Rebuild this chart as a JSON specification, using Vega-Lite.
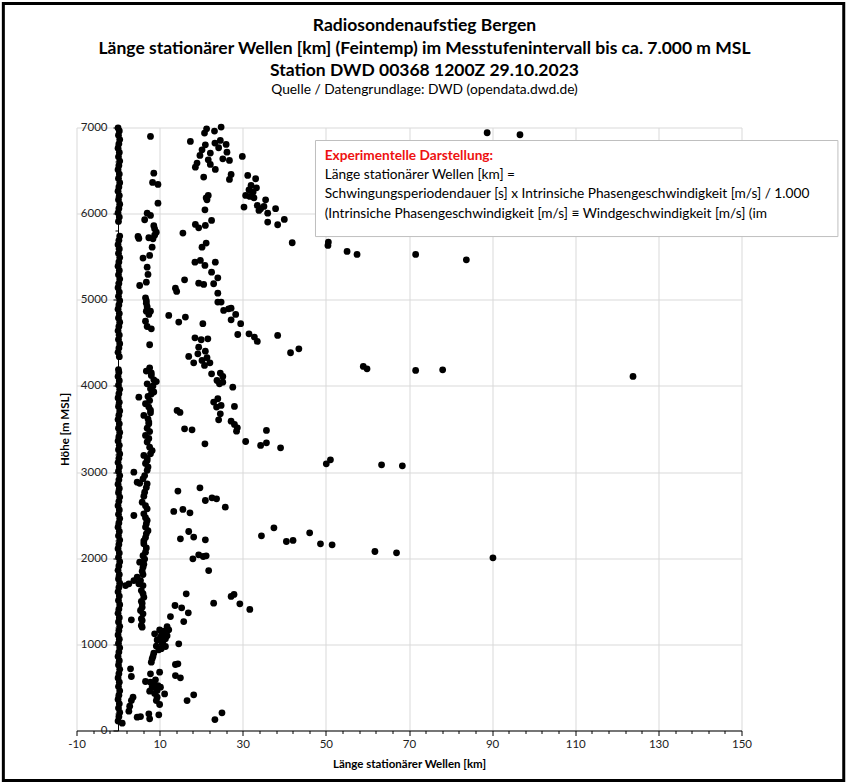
{
  "$schema": "https://vega.github.io/schema/vega-lite/v6.json",
  "width": 665,
  "height": 603,
  "padding": {"left": 1.5, "top": 1.5, "right": 2, "bottom": 2},
  "background": "white",
  "config": {"font": "Lato", "view": {"stroke": null}},
  "title": {
    "text": ["Radiosondenaufstieg Bergen", "Länge stationärer Wellen [km] (Feintemp) im Messtufenintervall bis ca. 7.000 m MSL", "Station DWD 00368 1200Z 29.10.2023"],
    "subtitle": "Quelle / Datengrundlage: DWD (opendata.dwd.de)",
    "anchor": "middle",
    "frame": "group",
    "dx": 15.5,
    "fontSize": 17.5,
    "fontWeight": "bold",
    "lineHeight": 22.5,
    "color": "black",
    "subtitleFontSize": 13.8,
    "subtitleColor": "black",
    "subtitlePadding": 3,
    "offset": -94.5
  },
  "layer": [
    {
      "data": {"values": [{}]},
      "mark": {"type": "rect", "filled": false, "stroke": "black", "strokeWidth": 3},
      "encoding": {
        "x": {"datum": -27.6, "type": "quantitative", "scale": {"domain": [-10, 150], "nice": false}},
        "x2": {"datum": 174.6},
        "y": {"datum": 8440, "type": "quantitative", "scale": {"domain": [0, 7000], "nice": false}},
        "y2": {"datum": -580}
      }
    },
    {
      "data": {"values": [
        {"laenge":0,"hoehe":110},{"laenge":0.2,"hoehe":160},{"laenge":0.4,"hoehe":210},{"laenge":0.1,"hoehe":260},{"laenge":0.3,"hoehe":310},
        {"laenge":0,"hoehe":360},{"laenge":0.2,"hoehe":410},{"laenge":0.4,"hoehe":460},{"laenge":0.1,"hoehe":510},{"laenge":0.3,"hoehe":560},
        {"laenge":0,"hoehe":610},{"laenge":0.2,"hoehe":660},{"laenge":0.4,"hoehe":710},{"laenge":0.1,"hoehe":760},{"laenge":0.3,"hoehe":810},
        {"laenge":0,"hoehe":860},{"laenge":0.2,"hoehe":910},{"laenge":0.4,"hoehe":960},{"laenge":0.1,"hoehe":1010},{"laenge":0.3,"hoehe":1060},
        {"laenge":0,"hoehe":1110},{"laenge":0.2,"hoehe":1160},{"laenge":0.4,"hoehe":1210},{"laenge":0.1,"hoehe":1260},{"laenge":0.3,"hoehe":1310},
        {"laenge":0,"hoehe":1360},{"laenge":0.2,"hoehe":1410},{"laenge":0.4,"hoehe":1460},{"laenge":0.1,"hoehe":1510},{"laenge":0.3,"hoehe":1560},
        {"laenge":0,"hoehe":1610},{"laenge":0.2,"hoehe":1660},{"laenge":0.4,"hoehe":1710},{"laenge":0.1,"hoehe":1760},{"laenge":0.3,"hoehe":1810},
        {"laenge":0,"hoehe":1860},{"laenge":0.2,"hoehe":1910},{"laenge":0.4,"hoehe":1960},{"laenge":0.1,"hoehe":2010},{"laenge":0.3,"hoehe":2060},
        {"laenge":0,"hoehe":2110},{"laenge":0.2,"hoehe":2160},{"laenge":0.4,"hoehe":2210},{"laenge":0.1,"hoehe":2260},{"laenge":0.3,"hoehe":2310},
        {"laenge":0,"hoehe":2360},{"laenge":0.2,"hoehe":2410},{"laenge":0.4,"hoehe":2460},{"laenge":0.1,"hoehe":2510},{"laenge":0.3,"hoehe":2560},
        {"laenge":0,"hoehe":2610},{"laenge":0.2,"hoehe":2660},{"laenge":0.4,"hoehe":2710},{"laenge":0.1,"hoehe":2760},{"laenge":0.3,"hoehe":2810},
        {"laenge":0,"hoehe":2860},{"laenge":0.2,"hoehe":2910},{"laenge":0.4,"hoehe":2960},{"laenge":0.1,"hoehe":3010},{"laenge":0.3,"hoehe":3060},
        {"laenge":0,"hoehe":3110},{"laenge":0.2,"hoehe":3160},{"laenge":0.4,"hoehe":3210},{"laenge":0.1,"hoehe":3260},{"laenge":0.3,"hoehe":3310},
        {"laenge":0,"hoehe":3360},{"laenge":0.2,"hoehe":3410},{"laenge":0.4,"hoehe":3460},{"laenge":0.1,"hoehe":3510},{"laenge":0.3,"hoehe":3560},
        {"laenge":0,"hoehe":3610},{"laenge":0.2,"hoehe":3660},{"laenge":0.4,"hoehe":3710},{"laenge":0.1,"hoehe":3760},{"laenge":0.3,"hoehe":3810},
        {"laenge":0,"hoehe":3860},{"laenge":0.2,"hoehe":3910},{"laenge":0.4,"hoehe":3960},{"laenge":0.1,"hoehe":4010},{"laenge":0.3,"hoehe":4060},
        {"laenge":0,"hoehe":4110},{"laenge":0.2,"hoehe":4160},{"laenge":0.1,"hoehe":4190},
        {"laenge":0.3,"hoehe":4340},{"laenge":0,"hoehe":4390},{"laenge":0.2,"hoehe":4440},{"laenge":0.4,"hoehe":4490},{"laenge":0.1,"hoehe":4540},
        {"laenge":0.3,"hoehe":4590},{"laenge":0,"hoehe":4640},{"laenge":0.2,"hoehe":4690},{"laenge":0.4,"hoehe":4740},{"laenge":0.1,"hoehe":4790},
        {"laenge":0.3,"hoehe":4840},{"laenge":0,"hoehe":4890},{"laenge":0.2,"hoehe":4940},{"laenge":0.4,"hoehe":4990},{"laenge":0.1,"hoehe":5040},
        {"laenge":0.3,"hoehe":5090},{"laenge":0,"hoehe":5140},{"laenge":0.2,"hoehe":5190},{"laenge":0.4,"hoehe":5240},{"laenge":0.1,"hoehe":5290},
        {"laenge":0.3,"hoehe":5340},{"laenge":0,"hoehe":5390},{"laenge":0.2,"hoehe":5440},{"laenge":0.4,"hoehe":5490},{"laenge":0.1,"hoehe":5540},
        {"laenge":0.3,"hoehe":5590},{"laenge":0,"hoehe":5640},{"laenge":0.2,"hoehe":5690},{"laenge":0.4,"hoehe":5740},
        {"laenge":0.1,"hoehe":5910},{"laenge":0.3,"hoehe":5960},{"laenge":0,"hoehe":6010},{"laenge":0.2,"hoehe":6060},{"laenge":0.4,"hoehe":6110},
        {"laenge":0.1,"hoehe":6160},{"laenge":0.3,"hoehe":6210},{"laenge":0,"hoehe":6260},{"laenge":0.2,"hoehe":6310},{"laenge":0.4,"hoehe":6360},
        {"laenge":0.1,"hoehe":6410},{"laenge":0.3,"hoehe":6460},{"laenge":0,"hoehe":6510},{"laenge":0.2,"hoehe":6560},{"laenge":0.4,"hoehe":6610},
        {"laenge":0.1,"hoehe":6660},{"laenge":0.3,"hoehe":6710},{"laenge":0,"hoehe":6760},{"laenge":0.2,"hoehe":6810},{"laenge":0.4,"hoehe":6860},
        {"laenge":0.1,"hoehe":6910},{"laenge":0.3,"hoehe":6960},{"laenge":0,"hoehe":6995},{"laenge":1.0,"hoehe":85},

        {"laenge":7.8,"hoehe":6896},{"laenge":8.6,"hoehe":6470},{"laenge":8.3,"hoehe":6362},{"laenge":9.6,"hoehe":6339},{"laenge":9.6,"hoehe":6122},
        {"laenge":7.0,"hoehe":6006},{"laenge":7.8,"hoehe":5979},{"laenge":6.4,"hoehe":5929},{"laenge":8.8,"hoehe":5824},{"laenge":9.2,"hoehe":5785},
        {"laenge":8.6,"hoehe":5860},{"laenge":4.8,"hoehe":5735},{"laenge":5.0,"hoehe":5712},{"laenge":7.4,"hoehe":5720},{"laenge":8.4,"hoehe":5708},
        {"laenge":8.8,"hoehe":5750},{"laenge":8.2,"hoehe":5611},{"laenge":7.6,"hoehe":5515},{"laenge":6.0,"hoehe":5484},{"laenge":7.0,"hoehe":5379},
        {"laenge":7.2,"hoehe":5294},{"laenge":6.8,"hoehe":5205},{"laenge":5.2,"hoehe":5166},{"laenge":6.6,"hoehe":5023},{"laenge":6.8,"hoehe":4990},
        {"laenge":6.8,"hoehe":4961},{"laenge":7.0,"hoehe":4920},{"laenge":6.8,"hoehe":4868},{"laenge":7.8,"hoehe":4868},{"laenge":7.4,"hoehe":4830},
        {"laenge":6.6,"hoehe":4752},{"laenge":7.0,"hoehe":4690},{"laenge":8.0,"hoehe":4663},{"laenge":7.6,"hoehe":4478},
        {"laenge":7.6,"hoehe":4210},{"laenge":6.8,"hoehe":4172},{"laenge":8.0,"hoehe":4150},{"laenge":8.0,"hoehe":4121},{"laenge":8.6,"hoehe":4071},
        {"laenge":9.2,"hoehe":4050},{"laenge":7.0,"hoehe":4025},{"laenge":8.4,"hoehe":4000},{"laenge":7.8,"hoehe":3967},{"laenge":8.6,"hoehe":3930},
        {"laenge":5.0,"hoehe":3870},{"laenge":7.2,"hoehe":3878},{"laenge":8.0,"hoehe":3905},{"laenge":6.6,"hoehe":3793},{"laenge":7.6,"hoehe":3830},
        {"laenge":7.4,"hoehe":3754},{"laenge":7.8,"hoehe":3720},{"laenge":6.2,"hoehe":3657},{"laenge":7.8,"hoehe":3690},{"laenge":7.2,"hoehe":3618},
        {"laenge":7.4,"hoehe":3560},{"laenge":7.4,"hoehe":3580},{"laenge":7.0,"hoehe":3510},{"laenge":7.6,"hoehe":3470},{"laenge":6.6,"hoehe":3425},
        {"laenge":7.4,"hoehe":3390},{"laenge":7.0,"hoehe":3350},{"laenge":7.6,"hoehe":3289},{"laenge":8.2,"hoehe":3250},{"laenge":7.8,"hoehe":3212},
        {"laenge":6.2,"hoehe":3193},{"laenge":7.0,"hoehe":3160},{"laenge":7.0,"hoehe":3135},{"laenge":6.6,"hoehe":3100},{"laenge":7.2,"hoehe":3060},
        {"laenge":7.0,"hoehe":3020},{"laenge":3.8,"hoehe":2999},{"laenge":6.4,"hoehe":2960},{"laenge":6.0,"hoehe":2922},{"laenge":4.6,"hoehe":2883},
        {"laenge":7.0,"hoehe":2864},{"laenge":5.2,"hoehe":2870},{"laenge":6.8,"hoehe":2820},{"laenge":6.4,"hoehe":2767},{"laenge":6.2,"hoehe":2720},
        {"laenge":5.8,"hoehe":2651},{"laenge":6.6,"hoehe":2610},{"laenge":7.0,"hoehe":2573},{"laenge":6.2,"hoehe":2515},{"laenge":3.8,"hoehe":2496},
        {"laenge":6.6,"hoehe":2470},{"laenge":7.0,"hoehe":2438},{"laenge":6.8,"hoehe":2400},{"laenge":6.6,"hoehe":2361},{"laenge":7.2,"hoehe":2320},
        {"laenge":6.8,"hoehe":2283},{"laenge":6.6,"hoehe":2240},{"laenge":6.2,"hoehe":2200},{"laenge":6.2,"hoehe":2167},{"laenge":6.8,"hoehe":2120},
        {"laenge":6.6,"hoehe":2070},{"laenge":6.0,"hoehe":2030},{"laenge":6.4,"hoehe":1990},{"laenge":5.2,"hoehe":1954},{"laenge":6.2,"hoehe":1930},
        {"laenge":6.0,"hoehe":1896},{"laenge":5.8,"hoehe":1850},{"laenge":6.0,"hoehe":1810},{"laenge":4.6,"hoehe":1780},{"laenge":3.8,"hoehe":1741},
        {"laenge":2.6,"hoehe":1703},{"laenge":1.8,"hoehe":1683},{"laenge":5.0,"hoehe":1703},{"laenge":6.0,"hoehe":1683},{"laenge":5.4,"hoehe":1740},
        {"laenge":5.6,"hoehe":1625},{"laenge":6.0,"hoehe":1590},{"laenge":6.2,"hoehe":1548},{"laenge":5.6,"hoehe":1500},{"laenge":5.8,"hoehe":1478},
        {"laenge":5.8,"hoehe":1432},{"laenge":5.4,"hoehe":1393},{"laenge":6.0,"hoehe":1355},{"laenge":5.6,"hoehe":1296},{"laenge":3.2,"hoehe":1285},
        {"laenge":5.8,"hoehe":1277},{"laenge":5.6,"hoehe":1219},{"laenge":5.8,"hoehe":1200},

        {"laenge":13.7,"hoehe":1451},{"laenge":15.3,"hoehe":1424},{"laenge":16.9,"hoehe":1366},{"laenge":12.6,"hoehe":1323},{"laenge":15.8,"hoehe":1265},
        {"laenge":23.0,"hoehe":1478},{"laenge":29.3,"hoehe":1470},{"laenge":31.7,"hoehe":1405},{"laenge":11.8,"hoehe":1207},{"laenge":10.0,"hoehe":1168},
        {"laenge":8.8,"hoehe":1122},{"laenge":11.0,"hoehe":1153},{"laenge":10.2,"hoehe":1083},{"laenge":11.4,"hoehe":1064},{"laenge":9.4,"hoehe":1052},
        {"laenge":10.6,"hoehe":1006},{"laenge":11.4,"hoehe":975},{"laenge":14.6,"hoehe":1006},{"laenge":9.8,"hoehe":936},{"laenge":8.6,"hoehe":898},
        {"laenge":8.2,"hoehe":832},{"laenge":8.0,"hoehe":793},{"laenge":3.0,"hoehe":716},{"laenge":3.2,"hoehe":627},{"laenge":7.8,"hoehe":658},
        {"laenge":10.0,"hoehe":677},{"laenge":13.8,"hoehe":638},{"laenge":15.0,"hoehe":611},{"laenge":14.4,"hoehe":774},{"laenge":13.8,"hoehe":766},
        {"laenge":6.6,"hoehe":569},{"laenge":7.8,"hoehe":561},{"laenge":9.0,"hoehe":588},{"laenge":8.2,"hoehe":503},{"laenge":10.2,"hoehe":503},
        {"laenge":9.4,"hoehe":464},{"laenge":7.6,"hoehe":456},{"laenge":11.2,"hoehe":425},{"laenge":9.4,"hoehe":387},{"laenge":9.2,"hoehe":348},
        {"laenge":10.0,"hoehe":302},{"laenge":3.6,"hoehe":387},{"laenge":3.2,"hoehe":348},{"laenge":2.8,"hoehe":282},{"laenge":2.6,"hoehe":224},
        {"laenge":16.6,"hoehe":348},{"laenge":18.2,"hoehe":414},{"laenge":4.6,"hoehe":155},{"laenge":5.4,"hoehe":162},{"laenge":7.4,"hoehe":193},
        {"laenge":7.6,"hoehe":135},{"laenge":9.8,"hoehe":182},{"laenge":23.3,"hoehe":127},{"laenge":25.0,"hoehe":205},
        {"laenge":10.5,"hoehe":1120},{"laenge":11.8,"hoehe":1100},{"laenge":10.8,"hoehe":1040},{"laenge":9.2,"hoehe":980},{"laenge":10.4,"hoehe":950},
        {"laenge":8.4,"hoehe":860},{"laenge":8.6,"hoehe":530},{"laenge":9.6,"hoehe":520},{"laenge":8.8,"hoehe":430},{"laenge":12.2,"hoehe":1169},

        {"laenge":28.8,"hoehe":4597},{"laenge":31.5,"hoehe":4605},{"laenge":32.8,"hoehe":4567},{"laenge":33.5,"hoehe":4516},{"laenge":38.4,"hoehe":4586},
        {"laenge":41.5,"hoehe":4385},{"laenge":43.5,"hoehe":4431},{"laenge":18.5,"hoehe":4559},{"laenge":20.0,"hoehe":4536},{"laenge":21.6,"hoehe":4547},
        {"laenge":19.4,"hoehe":4450},{"laenge":17.0,"hoehe":4342},{"laenge":19.2,"hoehe":4373},{"laenge":21.0,"hoehe":4404},{"laenge":18.2,"hoehe":4268},
        {"laenge":20.2,"hoehe":4296},{"laenge":21.4,"hoehe":4327},{"laenge":22.1,"hoehe":4268},{"laenge":20.8,"hoehe":4238},{"laenge":22.5,"hoehe":4141},
        {"laenge":24.6,"hoehe":4149},{"laenge":25.2,"hoehe":4110},{"laenge":23.8,"hoehe":4063},{"laenge":24.4,"hoehe":4025},{"laenge":25.2,"hoehe":4044},
        {"laenge":27.6,"hoehe":3986},{"laenge":23.0,"hoehe":3812},{"laenge":24.0,"hoehe":3851},{"laenge":23.7,"hoehe":3754},{"laenge":24.8,"hoehe":3773},
        {"laenge":28.0,"hoehe":3762},{"laenge":24.6,"hoehe":3676},{"laenge":24.2,"hoehe":3607},{"laenge":27.2,"hoehe":3591},{"laenge":28.0,"hoehe":3553},
        {"laenge":28.7,"hoehe":3514},{"laenge":28.5,"hoehe":3475},{"laenge":14.2,"hoehe":3715},{"laenge":14.9,"hoehe":3692},{"laenge":16.0,"hoehe":3502},
        {"laenge":17.8,"hoehe":3491},{"laenge":20.9,"hoehe":3328},{"laenge":30.7,"hoehe":3355},{"laenge":34.3,"hoehe":3309},{"laenge":35.7,"hoehe":3483},
        {"laenge":35.7,"hoehe":3340},{"laenge":39.1,"hoehe":3282},{"laenge":50.1,"hoehe":3096},{"laenge":51.1,"hoehe":3142},
        {"laenge":14.4,"hoehe":2779},{"laenge":19.7,"hoehe":2817},{"laenge":21.0,"hoehe":2670},{"laenge":22.6,"hoehe":2701},{"laenge":23.7,"hoehe":2690},
        {"laenge":25.8,"hoehe":2593},{"laenge":13.4,"hoehe":2543},{"laenge":15.6,"hoehe":2566},{"laenge":17.3,"hoehe":2527},{"laenge":17.0,"hoehe":2310},
        {"laenge":15.0,"hoehe":2225},{"laenge":18.2,"hoehe":2245},{"laenge":21.0,"hoehe":2213},{"laenge":18.0,"hoehe":1993},{"laenge":19.4,"hoehe":2040},
        {"laenge":20.5,"hoehe":2020},{"laenge":21.2,"hoehe":2028},{"laenge":21.8,"hoehe":1857},{"laenge":34.5,"hoehe":2260},{"laenge":37.5,"hoehe":2353},
        {"laenge":40.5,"hoehe":2194},{"laenge":42.1,"hoehe":2206},{"laenge":46.1,"hoehe":2295},{"laenge":48.7,"hoehe":2167},{"laenge":51.5,"hoehe":2156},
        {"laenge":16.4,"hoehe":1587},{"laenge":27.2,"hoehe":1556},{"laenge":27.9,"hoehe":1579},

        {"laenge":55.1,"hoehe":5561},{"laenge":57.5,"hoehe":5526},{"laenge":71.6,"hoehe":5526},{"laenge":83.8,"hoehe":5464},{"laenge":59.0,"hoehe":4226},
        {"laenge":59.9,"hoehe":4199},{"laenge":71.6,"hoehe":4180},{"laenge":78.1,"hoehe":4187},{"laenge":123.9,"hoehe":4110},{"laenge":63.4,"hoehe":3084},
        {"laenge":68.4,"hoehe":3073},{"laenge":61.8,"hoehe":2078},{"laenge":67.0,"hoehe":2063},{"laenge":90.2,"hoehe":2005},
        {"laenge":88.8,"hoehe":6939},{"laenge":96.7,"hoehe":6916},

        {"laenge":17.4,"hoehe":6838},{"laenge":21.3,"hoehe":6985},{"laenge":20.8,"hoehe":6935},{"laenge":23.2,"hoehe":6958},{"laenge":24.8,"hoehe":7005},
        {"laenge":24.6,"hoehe":6850},{"laenge":23.3,"hoehe":6819},{"laenge":26.0,"hoehe":6803},{"laenge":21.0,"hoehe":6799},{"laenge":20.2,"hoehe":6741},
        {"laenge":24.2,"hoehe":6765},{"laenge":26.2,"hoehe":6714},{"laenge":22.2,"hoehe":6703},{"laenge":19.7,"hoehe":6676},{"laenge":21.7,"hoehe":6625},
        {"laenge":25.2,"hoehe":6637},{"laenge":26.8,"hoehe":6618},{"laenge":22.2,"hoehe":6571},{"laenge":19.0,"hoehe":6587},{"laenge":18.6,"hoehe":6540},
        {"laenge":23.4,"hoehe":6513},{"laenge":29.9,"hoehe":6664},{"laenge":27.2,"hoehe":6455},{"laenge":26.8,"hoehe":6397},{"laenge":20.6,"hoehe":6424},
        {"laenge":21.7,"hoehe":6211},{"laenge":21.2,"hoehe":6184},{"laenge":21.4,"hoehe":6161},{"laenge":31.2,"hoehe":6443},{"laenge":33.1,"hoehe":6405},
        {"laenge":32.0,"hoehe":6327},{"laenge":33.3,"hoehe":6300},{"laenge":31.5,"hoehe":6277},{"laenge":32.5,"hoehe":6250},{"laenge":31.7,"hoehe":6200},
        {"laenge":32.7,"hoehe":6184},{"laenge":30.7,"hoehe":6211},{"laenge":30.3,"hoehe":6076},{"laenge":33.5,"hoehe":6095},{"laenge":34.3,"hoehe":6057},
        {"laenge":35.5,"hoehe":6161},{"laenge":35.1,"hoehe":6084},{"laenge":33.9,"hoehe":6037},{"laenge":36.0,"hoehe":6006},{"laenge":37.9,"hoehe":6057},
        {"laenge":36.0,"hoehe":5902},{"laenge":38.4,"hoehe":5871},{"laenge":40.0,"hoehe":5933},{"laenge":41.9,"hoehe":5662},{"laenge":50.6,"hoehe":5670},
        {"laenge":50.5,"hoehe":5631},{"laenge":20.9,"hoehe":6045},{"laenge":18.6,"hoehe":5875},{"laenge":19.4,"hoehe":5836},{"laenge":21.0,"hoehe":5863},
        {"laenge":22.5,"hoehe":5921},{"laenge":15.6,"hoehe":5774},{"laenge":21.2,"hoehe":5658},{"laenge":20.2,"hoehe":5611},{"laenge":18.5,"hoehe":5437},
        {"laenge":19.8,"hoehe":5457},{"laenge":20.9,"hoehe":5399},{"laenge":23.4,"hoehe":5437},{"laenge":22.5,"hoehe":5321},{"laenge":24.0,"hoehe":5255},
        {"laenge":19.4,"hoehe":5193},{"laenge":20.6,"hoehe":5178},{"laenge":23.0,"hoehe":5186},{"laenge":16.0,"hoehe":5232},{"laenge":13.8,"hoehe":5135},
        {"laenge":14.1,"hoehe":5097},{"laenge":24.0,"hoehe":5077},{"laenge":24.0,"hoehe":4973},{"laenge":24.8,"hoehe":4973},{"laenge":25.4,"hoehe":4876},
        {"laenge":26.6,"hoehe":4895},{"laenge":27.2,"hoehe":4903},{"laenge":28.3,"hoehe":4830},{"laenge":27.2,"hoehe":4768},{"laenge":29.5,"hoehe":4722},
        {"laenge":12.2,"hoehe":4818},{"laenge":14.6,"hoehe":4741},{"laenge":16.2,"hoehe":4799},{"laenge":20.4,"hoehe":4722}
      ]},
      "mark": {"type": "circle", "size": 46, "color": "black", "opacity": 1},
      "encoding": {
        "x": {
          "field": "laenge",
          "type": "quantitative",
          "scale": {"domain": [-10, 150], "nice": false},
          "axis": {
            "title": "Länge stationärer Wellen [km]",
            "titleFontSize": 11.5,
            "titleFontWeight": "bold",
            "titleColor": "black",
            "titlePadding": 8,
            "values": [-10,-6,-2,2,6,10,14,18,22,26,30,34,38,42,46,50,54,58,62,66,70,74,78,82,86,90,94,98,102,106,110,114,118,122,126,130,134,138,142,146,150],
            "tickCount": 100,
            "labelExpr": "(datum.value + 10) % 20 == 0 ? '' + datum.value : ''",
            "labelFontSize": 11.5,
            "labelColor": "#222222",
            "labelPadding": 3,
            "labelFlush": false,
            "labelOverlap": false,
            "domainColor": "black",
            "tickColor": "black",
            "tickSize": {"condition": {"test": "(datum.value + 10) % 20 == 0", "value": 5}, "value": 3},
            "grid": true,
            "gridColor": "#d9d9d9",
            "gridOpacity": {"condition": {"test": "(datum.value + 10) % 20 == 0", "value": 1}, "value": 0}
          }
        },
        "y": {
          "field": "hoehe",
          "type": "quantitative",
          "scale": {"domain": [0, 7000], "nice": false},
          "axis": {
            "title": "Höhe [m MSL]",
            "titleFontSize": 11.5,
            "titleFontWeight": "bold",
            "titleColor": "black",
            "titlePadding": 10,
            "offset": -41.5,
            "values": [0,200,400,600,800,1000,1200,1400,1600,1800,2000,2200,2400,2600,2800,3000,3200,3400,3600,3800,4000,4200,4400,4600,4800,5000,5200,5400,5600,5800,6000,6200,6400,6600,6800,7000],
            "tickCount": 100,
            "labelExpr": "datum.value % 1000 == 0 ? '' + datum.value : ''",
            "labelFontSize": 11.5,
            "labelColor": "#222222",
            "labelPadding": 6,
            "labelFlush": false,
            "labelOverlap": false,
            "domainColor": "black",
            "tickColor": "black",
            "tickSize": {"condition": {"test": "datum.value % 1000 == 0", "value": 5}, "value": 3},
            "grid": true,
            "gridColor": "#d9d9d9",
            "gridOpacity": {"condition": {"test": "datum.value % 1000 == 0", "value": 1}, "value": 0}
          }
        }
      }
    },
    {
      "data": {"values": [{}]},
      "mark": {"type": "rect", "fill": "white", "stroke": "#bfbfbf", "strokeWidth": 1},
      "encoding": {
        "x": {"datum": 47.5, "type": "quantitative", "scale": {"domain": [-10, 150], "nice": false}},
        "x2": {"datum": 173.2},
        "y": {"datum": 6849, "type": "quantitative", "scale": {"domain": [0, 7000], "nice": false}},
        "y2": {"datum": 5734}
      }
    },
    {
      "data": {"values": [{}]},
      "mark": {"type": "text", "text": "Experimentelle Darstellung:", "align": "left", "baseline": "alphabetic", "fontSize": 13.7, "fontWeight": "bold", "color": "#ee1111"},
      "encoding": {
        "x": {"datum": 49.7, "type": "quantitative", "scale": {"domain": [-10, 150], "nice": false}},
        "y": {"datum": 6623, "type": "quantitative", "scale": {"domain": [0, 7000], "nice": false}}
      }
    },
    {
      "data": {"values": [{}]},
      "mark": {
        "type": "text",
        "text": ["Länge stationärer Wellen [km] =", "Schwingungsperiodendauer [s] x Intrinsiche Phasengeschwindigkeit [m/s]  / 1.000", "(Intrinsiche Phasengeschwindigkeit [m/s] ≡ Windgeschwindigkeit [m/s] (im"],
        "align": "left",
        "baseline": "alphabetic",
        "lineHeight": 19.3,
        "fontSize": 13.7,
        "color": "black"
      },
      "encoding": {
        "x": {"datum": 49.7, "type": "quantitative", "scale": {"domain": [-10, 150], "nice": false}},
        "y": {"datum": 6403, "type": "quantitative", "scale": {"domain": [0, 7000], "nice": false}}
      }
    }
  ]
}
